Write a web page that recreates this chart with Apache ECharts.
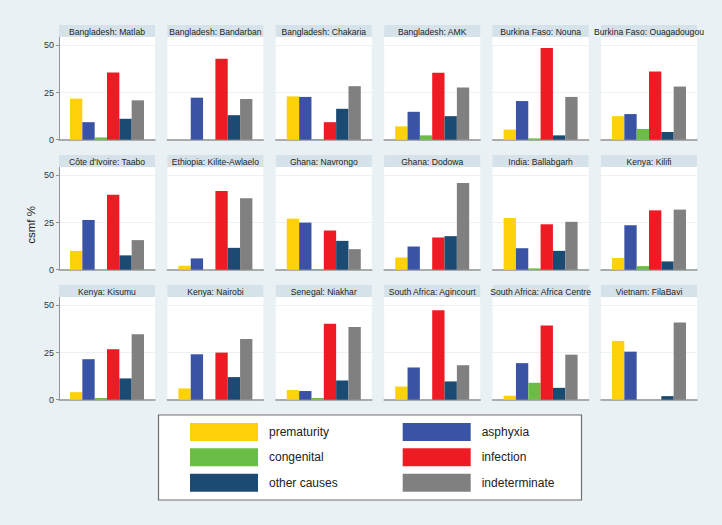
<!DOCTYPE html>
<html>
<head>
<meta charset="utf-8">
<script src="https://cdn.jsdelivr.net/npm/echarts@6/dist/echarts.min.js"></script>
<style>
html,body{margin:0;padding:0;background:#E9F1F4;}
#chart{width:722px;height:525px;}
</style>
</head>
<body>
<div id="chart"></div>
<script>
const panels = [
  'Bangladesh: Matlab', 'Bangladesh: Bandarban', 'Bangladesh: Chakaria', 'Bangladesh: AMK',
  'Burkina Faso: Nouna', 'Burkina Faso: Ouagadougou',
  "Côte d'Ivoire: Taabo", 'Ethiopia: Kilite-Awlaelo', 'Ghana: Navrongo', 'Ghana: Dodowa',
  'India: Ballabgarh', 'Kenya: Kilifi',
  'Kenya: Kisumu', 'Kenya: Nairobi', 'Senegal: Niakhar', 'South Africa: Agincourt',
  'South Africa: Africa Centre', 'Vietnam: FilaBavi'
];
const causes = ['prematurity', 'asphyxia', 'congenital', 'infection', 'other causes', 'indeterminate'];
const prematurity   = [21.8, 0, 23.0, 7.1, 5.4, 12.5, 10.0, 2.1, 27.1, 6.5, 27.5, 6.2, 4.0, 6.0, 5.1, 7.0, 2.1, 31.2];
const asphyxia      = [9.3, 22.3, 22.7, 14.8, 20.5, 13.6, 26.4, 6.0, 25.0, 12.3, 11.4, 23.6, 21.5, 24.1, 4.6, 17.1, 19.4, 25.5];
const congenital    = [1.2, 0, 0.3, 2.3, 0.7, 5.7, 0, 0, 0.3, 0, 0.7, 1.9, 0.9, 0, 0.9, 0, 9.0, 0];
const infection     = [35.7, 43.0, 9.3, 35.5, 48.7, 36.2, 39.8, 41.7, 20.8, 17.1, 24.1, 31.5, 26.8, 25.0, 40.3, 47.5, 39.4, 0];
const otherCauses   = [11.1, 13.0, 16.4, 12.5, 2.3, 4.1, 7.6, 11.6, 15.3, 17.8, 10.0, 4.4, 11.3, 12.0, 10.2, 9.7, 6.3, 1.9];
const indeterminate = [20.9, 21.6, 28.4, 27.7, 22.7, 28.2, 15.7, 37.9, 10.9, 46.0, 25.4, 31.9, 34.7, 32.2, 38.6, 18.3, 23.9, 41.0];
const yTicks = [0, 25, 50];
const yTitle = 'csmf %';

const seriesValues = [prematurity, asphyxia, congenital, infection, otherCauses, indeterminate];
const colors = ['#FED20B', '#3A53A4', '#6CBD45', '#ED1C24', '#1B4A72', '#808080'];

const FONT = '"Liberation Sans", Arial, Helvetica, sans-serif';
const panelW = 96, colStep = 108.4, left0 = 59;
const rowTops = [25, 155, 285];
const stripH = 12, plotH = 102.7;

const grids = [], xAxes = [], yAxes = [], series = [], graphics = [];

panels.forEach((name, i) => {
  const col = i % 6, row = Math.floor(i / 6);
  const x = left0 + col * colStep;
  const top = rowTops[row];
  grids.push({left: x, top: top + stripH, width: panelW, height: plotH,
    show: true, backgroundColor: '#ffffff', borderWidth: 0, containLabel: false});
  xAxes.push({type: 'category', gridIndex: i, data: [''],
    axisLine: {show: true, lineStyle: {color: '#949494', width: 1.5}},
    axisTick: {show: false}, axisLabel: {show: false}, splitLine: {show: false}});
  const first = col === 0;
  yAxes.push({type: 'value', gridIndex: i, min: 0, max: 54.5, interval: 25,
    axisLine: {show: first, lineStyle: {color: '#949494', width: 1}},
    axisTick: {show: first, length: 3, customValues: yTicks, lineStyle: {color: '#949494'}},
    axisLabel: {show: first, customValues: yTicks, fontSize: 9, color: '#333', margin: 5, fontFamily: FONT},
    splitLine: {show: true, lineStyle: {color: '#EDF1F3', width: 1}}});
  causes.forEach((c, j) => {
    series.push({type: 'bar', name: c, xAxisIndex: i, yAxisIndex: i,
      data: [seriesValues[j][i]], barWidth: 12.33, barGap: '0%',
      itemStyle: {color: colors[j]}, silent: true, animation: false});
  });
  graphics.push({type: 'rect', shape: {x: x, y: top, width: panelW, height: stripH},
    style: {fill: '#D6E2E9'}, z: 1});
  graphics.push({type: 'text', x: x + panelW / 2, y: top + stripH / 2 + 0.5, z: 2,
    style: {text: name, fill: '#222', fontSize: 8.6, fontFamily: FONT, align: 'center', verticalAlign: 'middle'}});
});

graphics.push({type: 'text', x: 31, y: 225, rotation: Math.PI / 2, z: 2,
  style: {text: yTitle, fill: '#222', fontSize: 11.5, fontFamily: FONT, align: 'center', verticalAlign: 'middle'}});
graphics.push({type: 'rect', shape: {x: 158.5, y: 415, width: 423, height: 85},
  style: {fill: '#ffffff', stroke: '#6e6e6e', lineWidth: 1.2}, z: 0});

const legendPos = [[190, 423], [402.7, 423], [190, 448.3], [402.7, 448.3], [190, 473.7], [402.7, 473.7]];
const legends = causes.map((c, j) => ({
  data: [c], left: legendPos[j][0], top: legendPos[j][1], padding: 0,
  itemWidth: 68, itemHeight: 18, icon: 'rect', selectedMode: false, z: 5,
  textStyle: {fontSize: 12, color: '#222', fontFamily: FONT, padding: [0, 0, 0, 6]}
}));

const chart = echarts.init(document.getElementById('chart'), null, {renderer: 'svg'});
chart.setOption({
  backgroundColor: '#E9F1F4',
  animation: false,
  grid: grids, xAxis: xAxes, yAxis: yAxes, series: series,
  legend: legends, graphic: graphics
});
</script>
</body>
</html>
